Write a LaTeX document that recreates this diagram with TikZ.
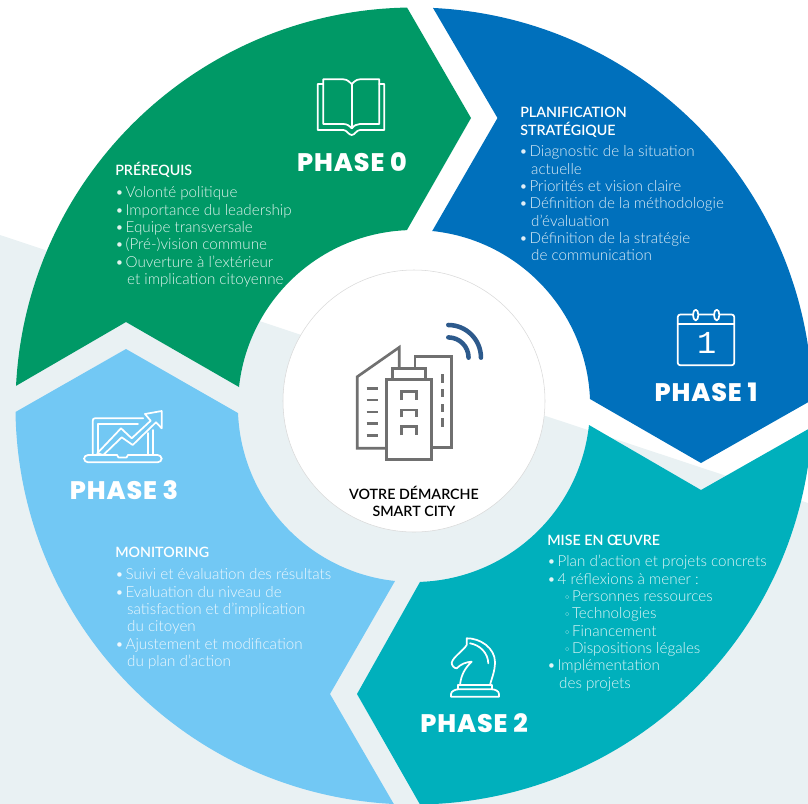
\documentclass[tikz,border=0pt]{standalone}
\usepackage{fontspec}
\setmainfont{Lato}
\newfontfamily\bodyfont{Lato Light}
\newfontfamily\headfont{Lato Semibold}
\newfontfamily\phasefont[LetterSpace=3.5]{Poppins ExtraBold}
\newfontfamily\symfont{DejaVu Sans}
\newfontfamily\onefont{Liberation Mono}
\definecolor{cgreen}{HTML}{009966}
\definecolor{cblue}{HTML}{0070BC}
\definecolor{cteal}{HTML}{00B0BC}
\definecolor{csky}{HTML}{72C8F4}
\definecolor{cbg}{HTML}{E9F1F3}
\definecolor{ccity}{HTML}{707070}
\definecolor{cwifi}{HTML}{2D5A8C}
\newcommand{\itm}[1]{\makebox[7pt][l]{\hspace*{-0.8pt}•}#1}
\newcommand{\cont}[1]{\hspace*{8.2pt}#1}
\newcommand{\sub}[1]{\hspace*{11.8pt}\makebox[6pt][l]{\symfont\fontsize{8}{8}\selectfont ◦}#1}
\tikzset{
  bodytxt/.style={anchor=north west,inner sep=0pt,align=left,font=\bodyfont\fontsize{11.4}{12.98}\selectfont},
  headtxt/.style={anchor=north west,inner sep=0pt,align=left,text=white,font=\headfont\fontsize{10.7}{12.98}\selectfont},
  phasetxt/.style={inner sep=0pt,text=white,font=\phasefont\fontsize{19}{22}\selectfont},
  citytxt/.style={inner sep=0pt,align=center,text=black,font=\headfont\fontsize{10.7}{12.98}\selectfont},
  iconline/.style={draw=white,line width=1.3pt,line join=round,line cap=round},
  cityline/.style={draw=ccity,line width=2pt,line join=miter},
  wifiline/.style={draw=cwifi,line width=3.4pt,line cap=round},
}
\begin{document}
\begin{tikzpicture}[x=0.75pt,y=-0.75pt]
\clip (0,0) rectangle (808,804);
\useasboundingbox (0,0) rectangle (808,804);
% background band
\fill[cbg] (0,235) -- (808,503) -- (808,804) -- (0,804) -- cycle;
% phase 0
\fill[cgreen] (407.05,7.56) arc[start angle=91,end angle=177.1,radius=298.875pt] -- (126,322) -- (239,387)
  arc[start angle=173.8,end angle=92.3,radius=132pt] -- (471,118) -- cycle;
% phase 1
\fill[cblue] (433,7.95) arc[start angle=87.27,end angle=0.9,radius=298.875pt] -- (701,463) -- (590,399)
  arc[start angle=2.3,end angle=84.1,radius=132pt] -- (497.5,118) -- cycle;
% phase 2
\fill[cteal] (420,804.45) arc[start angle=-89.14,end angle=-3.02,radius=298.875pt] -- (701,490) -- (589,425)
  arc[start angle=-6.2,end angle=-88.05,radius=132pt] -- (357,694) -- cycle;
% phase 3
\fill[csky] (15.5,412) arc[start angle=180.86,end angle=267.1,radius=298.875pt] -- (330,694) -- (395,581)
  arc[start angle=263.84,end angle=182.3,radius=132pt] -- (126,349) -- cycle;
% central disc
\node[circle,fill=white,draw=black!15,line width=0.4pt,minimum size=196.5pt,inner sep=0pt] (disc) at (414,401) {};
% city icon
\draw[cityline] (386.7,448.3) -- (357.3,448.3) -- (357.3,376.7) -- (399.3,347.3) -- (399.3,368.3);
\draw[cityline] (415,368.3) -- (415,356.7) -- (451.7,356.7) -- (451.7,447.7) -- (431.7,447.7);
\draw[cityline] (392.7,379.3) -- (392.7,368.3) -- (425.7,368.3) -- (425.7,379.3);
\draw[cityline] (386.7,379.3) rectangle (431.7,459.3);
\foreach \yy in {388.3,400,412,423.7,435.3} \draw[cityline] (366.7,\yy) -- (378.3,\yy);
\draw[cityline] (442.3,374.3) -- (442.3,383.3) (442.3,389.3) -- (442.3,397.3) (442.3,404) -- (442.3,412.3) (442.3,418.3) -- (442.3,426.7);
\foreach \yy/\zz in {391.7/400,410/417.3,426.7/435} \draw[cityline] (401.3,\zz) -- (401.3,\yy) -- (416.7,\yy) -- (416.7,\zz);
\draw[wifiline] (448.3,325) arc[start angle=90,end angle=0,radius=24.5pt];
\draw[wifiline] (448.3,337.4) arc[start angle=90,end angle=0,radius=15.2pt];
% book icon
\draw[iconline] (351.7,84) .. controls (347,79.3) and (345,79.3) .. (343.3,79.3) -- (323.3,79.3) -- (323.3,124) -- (343.3,124) .. controls (347,124) and (349,125.5) .. (351.7,128.3)
  .. controls (354.4,125.5) and (356.4,124) .. (360,124) -- (379.3,124) -- (379.3,79.3) -- (360,79.3) .. controls (358.4,79.3) and (356.4,79.3) .. (351.7,84) -- cycle;
\draw[iconline] (351.7,84) -- (351.7,128.3);
\draw[iconline] (323.3,84) -- (317.7,84) -- (317.7,130) -- (343.3,130) .. controls (347,130) and (348.5,135) .. (351.7,135) .. controls (354.9,135) and (356.4,130) .. (360,130) -- (384.3,130) -- (384.3,84) -- (379.3,84);
% calendar icon
\draw[iconline,rounded corners=2pt] (677.7,314.5) rectangle (734.3,365.3);
\draw[iconline] (677.7,324) -- (734.3,324);
\draw[iconline,fill=cblue] (695.7,315) ellipse[x radius=2pt,y radius=4pt];
\draw[iconline,fill=cblue] (716.7,315) ellipse[x radius=2pt,y radius=4pt];
\node[inner sep=0pt,text=white,font=\onefont\fontsize{24}{26}\selectfont] (one) at (706.7,343.3) {1};
% laptop icon
\draw[iconline] (92.7,455) -- (92.7,421) .. controls (92.7,419) and (93.5,418.3) .. (95,418.3) -- (143.3,418.3);
\draw[iconline] (153.3,430) -- (153.3,455);
\draw[iconline] (98.3,453) -- (98.3,424) -- (138,424);
\draw[iconline] (148.3,433) -- (148.3,455);
\draw[iconline,rounded corners=3pt] (117,455) -- (84,455) -- (84,462.3) -- (161.7,462.3) -- (161.7,455) -- (128,455);
\draw[iconline] (117,455) -- (118.5,457.5) -- (126.5,457.5) -- (128,455);
\draw[iconline,fill=csky] (97.3,453.3) -- (121,428.3) -- (131.7,438.3) -- (150.7,420.7) -- (145,414) -- (161.7,411) -- (161.7,428.3) -- (156,422.3) -- (132.7,445) -- (121.7,437.3) -- (103.3,455) -- cycle;
% knight icon
\draw[iconline] (460,685) .. controls (461,675) and (465,668) .. (471.7,661.7) .. controls (466,662) and (461,664) .. (456.7,668.3) .. controls (454,668.5) and (451.5,665) .. (451.7,662.7) .. controls (453,657) and (463,651) .. (466.7,645) -- (466.7,638.3) .. controls (480,638) and (495,648) .. (495,662) .. controls (495,672) and (491,680) .. (490,685);
\draw[iconline] (470,643.3) .. controls (480,645) and (488,653) .. (488.3,663.3);
\draw[iconline] (458.3,689.3) -- (458.3,685) -- (491.7,685) -- (491.7,689.3);
\draw[iconline] (451,696.7) -- (451,694) .. controls (451,691) and (456,689.3) .. (458.3,689.3) -- (491.7,689.3) .. controls (495,689.3) and (499,691) .. (499,694) -- (499,696.7) -- cycle;
% phase labels
\node[phasetxt] (p0) at (352,162) {PHASE 0};
\node[phasetxt] (p1) at (706,392) {PHASE 1};
\node[phasetxt] (p2) at (474,723) {PHASE 2};
\node[phasetxt] (p3) at (124,490) {PHASE 3};
% centre caption
\node[citytxt] (city) at (414,501.5) {VOTRE DÉMARCHE\\SMART CITY};
% phase 0 text
\node[headtxt] (h0) at (115,163.5) {\strut\smash{PRÉREQUIS}};
\node[bodytxt,text=white!88!cgreen] (b0) at (116,185.5) {\strut\itm{Volonté politique}\\\strut\itm{Importance du leadership}\\\strut\itm{Equipe transversale}\\\strut\itm{(Pré-)vision commune}\\\strut\itm{Ouverture à l’extérieur}\\\strut\cont{et implication citoyenne}};
% phase 1 text
\node[headtxt] (h1) at (520,105.5) {\strut PLANIFICATION\\\strut\smash{STRATÉGIQUE}};
\node[bodytxt,text=white!88!cblue] (b1) at (520,144.5) {\strut\itm{Diagnostic de la situation}\\\strut\cont{actuelle}\\\strut\itm{Priorités et vision claire}\\\strut\itm{Définition de la méthodologie}\\\strut\cont{d’évaluation}\\\strut\itm{Définition de la stratégie}\\\strut\cont{de communication}};
% phase 2 text
\node[headtxt] (h2) at (547,533.5) {\strut MISE EN ŒUVRE};
\node[bodytxt,text=white!88!cteal] (b2) at (548,554.5) {\strut\itm{Plan d’action et projets concrets}\\\strut\itm{4 réflexions à mener :}\\\strut\sub{Personnes ressources}\\\strut\sub{Technologies}\\\strut\sub{Financement}\\\strut\sub{Dispositions légales}\\\strut\itm{Implémentation}\\\strut\cont{des projets}};
% phase 3 text
\node[headtxt] (h3) at (115,545.5) {\strut MONITORING};
\node[bodytxt,text=white!88!csky] (b3) at (116,567.5) {\strut\itm{Suivi et évaluation des résultats}\\\strut\itm{Evaluation du niveau de}\\\strut\cont{satisfaction et d’implication}\\\strut\cont{du citoyen}\\\strut\itm{Ajustement et modification}\\\strut\cont{du plan d’action}};
\end{tikzpicture}
\end{document}
